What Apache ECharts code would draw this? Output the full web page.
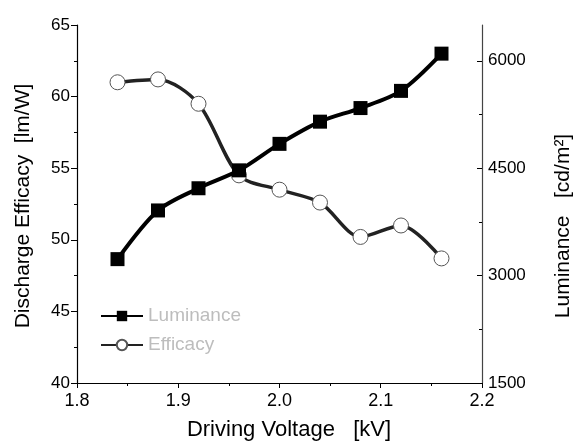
<!DOCTYPE html>
<html><head><meta charset="utf-8">
<script src="https://cdn.jsdelivr.net/npm/echarts@6/dist/echarts.min.js"></script>
<style>html,body{margin:0;padding:0;background:#fff}#c{width:576px;height:443px}</style>
</head><body><div id="c"></div>
<script>
var voltage = [1.84, 1.88, 1.92, 1.96, 2.00, 2.04, 2.08, 2.12, 2.16];
var luminance = [3230, 3910, 4220, 4470, 4840, 5150, 5340, 5580, 6100];
var efficacy = [61.0, 61.2, 59.5, 54.5, 53.5, 52.6, 50.2, 51.0, 48.7];
var xTicks = [1.8, 1.9, 2.0, 2.1, 2.2];
var leftTicks = [40, 45, 50, 55, 60, 65];
var rightTicks = [1500, 3000, 4500, 6000];
var xTitle = 'Driving Voltage   [kV]';
var leftTitle = 'Discharge Efficacy  [lm/W]';
var rightTitle = 'Luminance   [cd/m\u00b2]';

var FONT = 'Liberation Sans, Arial, sans-serif';
var chart = echarts.init(document.getElementById('c'), null, {renderer: 'canvas'});
function pairs(xs, ys){ return xs.map(function(x,i){ return [x, ys[i]]; }); }
chart.setOption({
  animation: false,
  backgroundColor: '#fff',
  grid: {left: 77, right: 94, top: 25, bottom: 60, containLabel: false},
  legend: {
    orient: 'vertical', left: 100, top: 306, padding: 0, itemGap: 9, itemWidth: 42, itemHeight: 13,
    textStyle: {color: '#bdbdbd', fontFamily: FONT, fontSize: 19, lineHeight: 20},
    data: ['Luminance', 'Efficacy']
  },
  graphic: [
    {type: 'text', x: 289, y: 430, silent: true,
     style: {text: xTitle, font: '22px ' + FONT, fill: '#000', textAlign: 'center', textVerticalAlign: 'middle'}},
    {type: 'text', x: 23, y: 206, rotation: Math.PI / 2, silent: true,
     style: {text: leftTitle, font: '21px ' + FONT, fill: '#000', textAlign: 'center', textVerticalAlign: 'middle'}},
    {type: 'text', x: 563, y: 226, rotation: Math.PI / 2, silent: true,
     style: {text: rightTitle, font: '21px ' + FONT, fill: '#000', textAlign: 'center', textVerticalAlign: 'middle'}}
  ],
  xAxis: {
    type: 'value', min: 1.8, max: 2.2, interval: 0.1,
    axisLine: {show: true, onZero: false, lineStyle: {color: '#000', width: 1.2}},
    axisTick: {show: true, inside: false, length: 5, customValues: xTicks, lineStyle: {color: '#000'}},
    minorTick: {show: true, splitNumber: 2, length: 3, lineStyle: {color: '#000'}},
    axisLabel: {color: '#000', fontFamily: FONT, fontSize: 18, margin: 9, customValues: xTicks,
      formatter: function(v){ return Number(v).toFixed(1); }},
    splitLine: {show: false}
  },
  yAxis: [{
    type: 'value', min: 40, max: 65, interval: 5, position: 'left',
    axisLine: {show: true, lineStyle: {color: '#000', width: 1.2}},
    axisTick: {show: true, inside: false, length: 6, customValues: leftTicks, lineStyle: {color: '#000'}},
    minorTick: {show: true, splitNumber: 2, length: 3, lineStyle: {color: '#000'}},
    axisLabel: {color: '#000', fontFamily: FONT, fontSize: 17, margin: 7, customValues: leftTicks},
    splitLine: {show: false}
  }, {
    type: 'value', min: 1500, max: 6500, interval: 1500, position: 'right',
    axisLine: {show: true, lineStyle: {color: '#444', width: 1.2}},
    axisTick: {show: true, inside: true, length: 5, customValues: rightTicks, lineStyle: {color: '#000'}},
    minorTick: {show: true, splitNumber: 2, length: 3, lineStyle: {color: '#000'}},
    axisLabel: {color: '#000', fontFamily: FONT, fontSize: 17, margin: 6, customValues: rightTicks,
      formatter: function(v){ return String(v); }},
    splitLine: {show: false}
  }],
  series: [{
    name: 'Luminance', type: 'line', yAxisIndex: 1, smooth: 0.3,
    data: pairs(voltage, luminance),
    symbol: 'rect', symbolSize: 14,
    lineStyle: {color: '#000', width: 4},
    itemStyle: {color: '#000', borderColor: '#000', borderWidth: 0},
    z: 3
  }, {
    name: 'Efficacy', type: 'line', yAxisIndex: 0, smooth: 0.3,
    data: pairs(voltage, efficacy),
    symbol: 'circle', symbolSize: 15, showAllSymbol: true,
    lineStyle: {color: '#222', width: 3.5},
    itemStyle: {color: '#fff', borderColor: '#555', borderWidth: 1},
    z: 2
  }]
});
</script></body></html>
